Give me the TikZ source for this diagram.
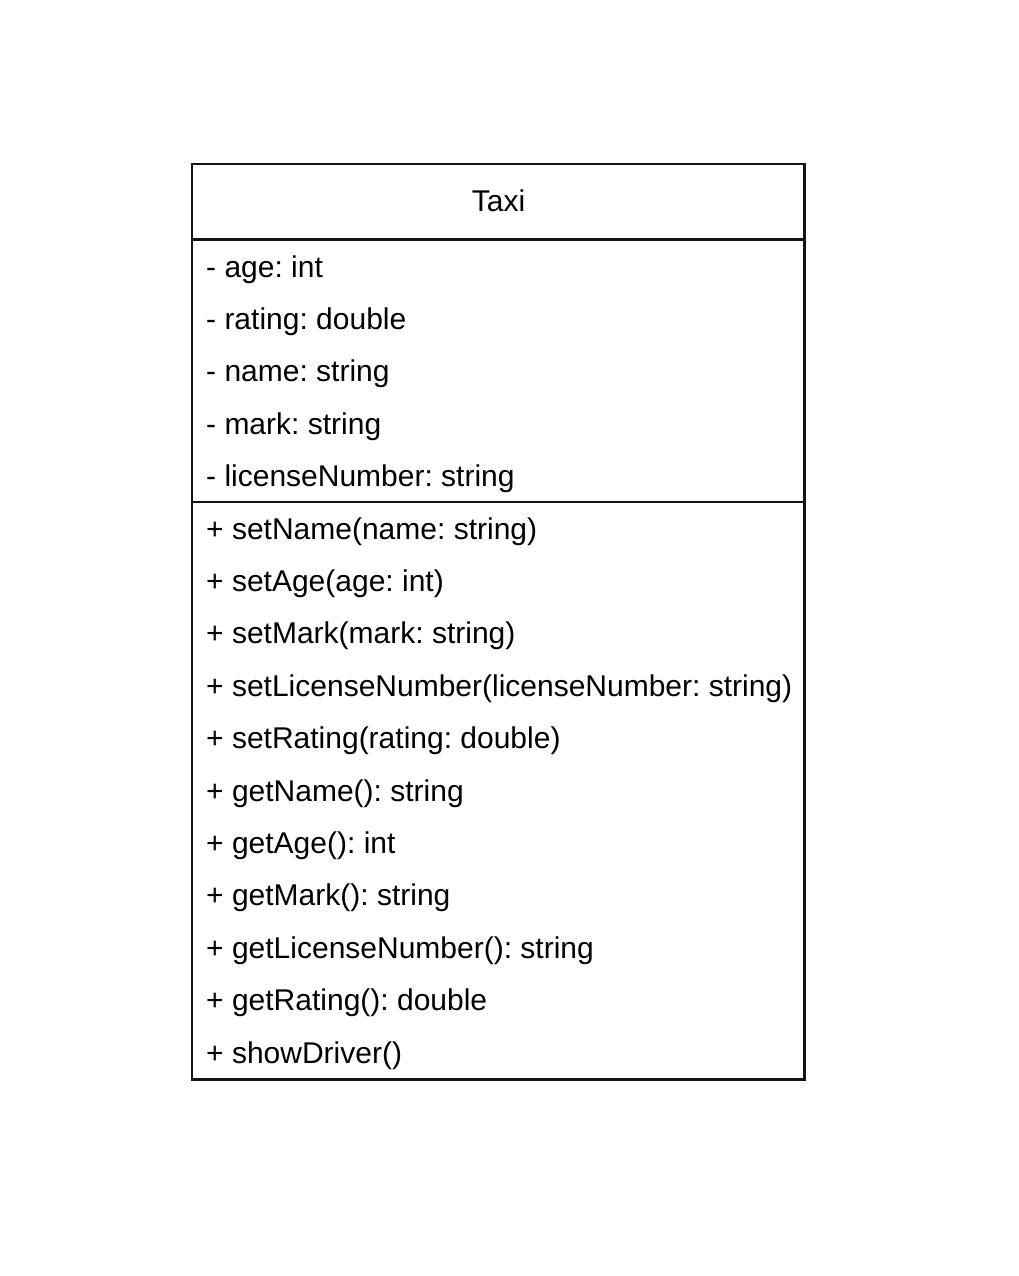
\documentclass[tikz,border=0pt]{standalone}
\usepackage{fontspec}
\setmainfont{Liberation Sans}
\frenchspacing
\begin{document}
\begin{tikzpicture}[x=1pt,y=-1pt,
  frame/.style={draw=black!92, line width=2.2pt},
  member/.style={anchor=base west, inner sep=0pt, font=\fontsize{30}{36}\selectfont},
  title/.style={anchor=base, inner sep=0pt, font=\fontsize{30}{36}\selectfont}]
\useasboundingbox (0,0) rectangle (1019,1276);
\coordinate (tl) at (192,164);
\coordinate (br) at (804.5,1079.5);
\draw[frame] (tl) rectangle (br);
\coordinate (s1l) at (192,239.5);
\coordinate (s1r) at (804.5,239.5);
\coordinate (s2l) at (192,502);
\coordinate (s2r) at (804.5,502);
\draw[frame] (s1l) -- (s1r);
\draw[frame] (s2l) -- (s2r);
\node[title] (name) at (498.5,211.7) {\frenchspacing Taxi};
\begin{scope}[every node/.append style={execute at begin node=\frenchspacing}]
\node[member] (a1) at (206,277) {- age: int};
\node[member] (a2) at (206,329.4) {- rating: double};
\node[member] (a3) at (206,381.8) {- name: string};
\node[member] (a4) at (206,434.2) {- mark: string};
\node[member] (a5) at (206,486.6) {- licenseNumber: string};
\node[member] (m1) at (206,539) {+ setName(name: string)};
\node[member] (m2) at (206,591.4) {+ setAge(age: int)};
\node[member] (m3) at (206,643.8) {+ setMark(mark: string)};
\node[member] (m4) at (206,696.2) {+ setLicenseNumber(licenseNumber: string)};
\node[member] (m5) at (206,748.6) {+ setRating(rating: double)};
\node[member] (m6) at (206,801) {+ getName(): string};
\node[member] (m7) at (206,853.4) {+ getAge(): int};
\node[member] (m8) at (206,905.8) {+ getMark(): string};
\node[member] (m9) at (206,958.2) {+ getLicenseNumber(): string};
\node[member] (m10) at (206,1010.6) {+ getRating(): double};
\node[member] (m11) at (206,1063) {+ showDriver()};
\end{scope}
\end{tikzpicture}
\end{document}
